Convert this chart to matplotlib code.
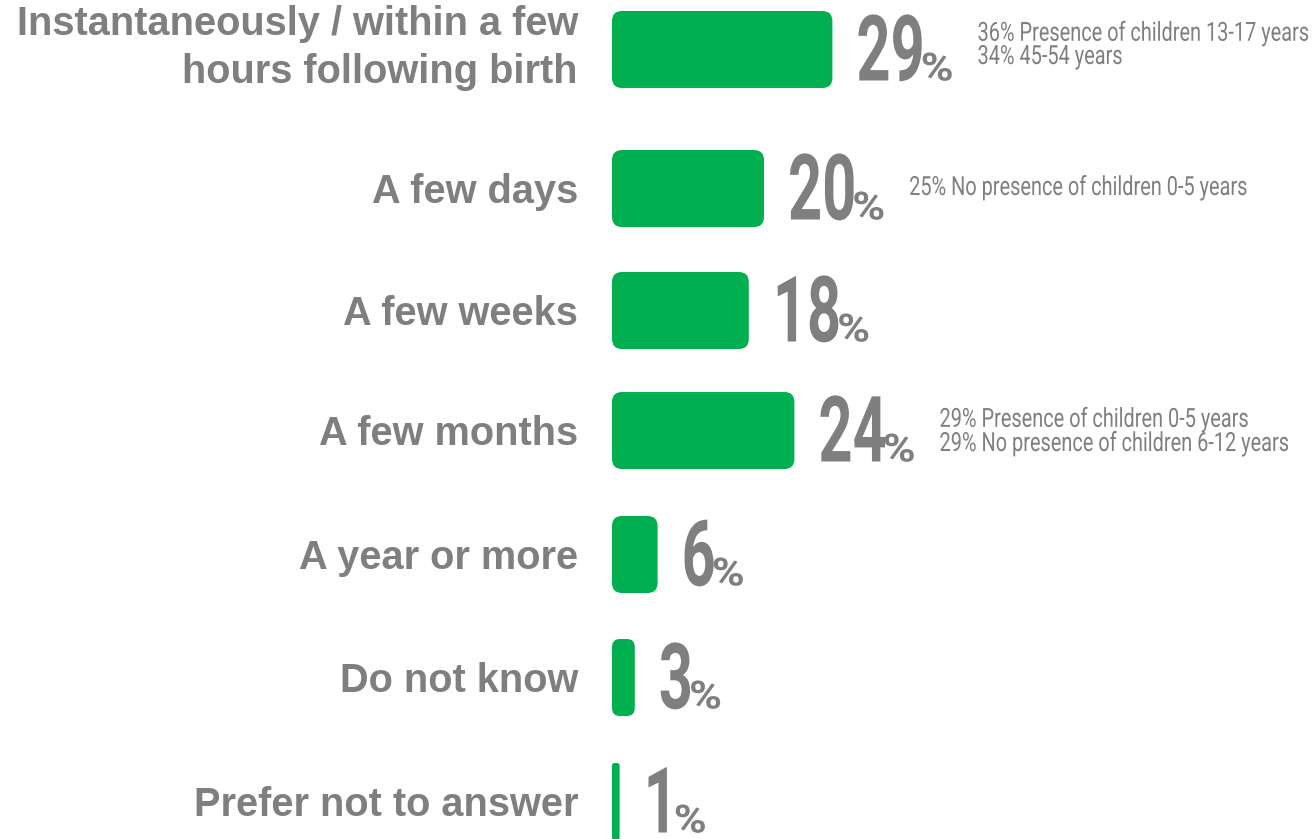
import matplotlib
matplotlib.use("Agg")
import matplotlib.pyplot as plt
from matplotlib.patches import FancyBboxPatch
from matplotlib import patheffects
from matplotlib.transforms import Affine2D, IdentityTransform, offset_copy

# ---- data -------------------------------------------------------------
categories = [
    "Instantaneously / within a few\nhours following birth",
    "A few days",
    "A few weeks",
    "A few months",
    "A year or more",
    "Do not know",
    "Prefer not to answer",
]
shares = [29, 20, 18, 24, 6, 3, 1]
notes = [
    "36% Presence of children 13-17 years\n34% 45-54 years",
    "25% No presence of children 0-5 years",
    "",
    "29% Presence of children 0-5 years\n29% No presence of children 6-12 years",
    "",
    "",
    "",
]

# ---- layout (pixels) --------------------------------------------------
W, H, DPI = 1314, 839, 100
ROW_Y = [49.5, 188.5, 310.5, 430.5, 554.5, 677.5, 801.5]
NOTE_DY = [14.5, 6.5, 0, 20.5, 0, 0, 0]   # baseline of a note's last line
BAR_X0 = 612
PX_PER_PCT = 7.6
BAR_H = 77
CORNER = 10
LABEL_RIGHT = 578
LABEL_SIZE = 28.6
LABEL_LINE = 44
NUM_GAP = 24
NUM_DROP = 31
NOTE_GAP = 24

GREEN = "#00B050"
GREY = "#7F7F7F"


class Condensed(patheffects.AbstractPathEffect):
    """Scale glyphs horizontally about the start of each text line."""

    def __init__(self, sx):
        super().__init__()
        self.sx = sx

    def draw_path(self, renderer, gc, tpath, affine, rgbFace=None):
        m = affine.get_matrix()
        x0 = m[0, 2]
        squeeze = Affine2D().translate(-x0, 0).scale(self.sx, 1).translate(x0, 0)
        renderer.draw_path(gc, tpath, Affine2D(squeeze.get_matrix() @ m), rgbFace)


fig = plt.figure(figsize=(W / DPI, H / DPI), dpi=DPI)
fig.patch.set_facecolor("white")
ax = fig.add_axes([0, 0, 1, 1])
ax.set_xlim(-BAR_X0 / PX_PER_PCT, (W - BAR_X0) / PX_PER_PCT)
ax.set_ylim(H, 0)
ax.axis("off")

# bars with rounded corners
for v, y in zip(shares, ROW_Y):
    width_px = v * PX_PER_PCT
    r_px = min(CORNER, width_px * 0.35)
    bar = FancyBboxPatch(
        (0, y - BAR_H / 2), v, BAR_H,
        boxstyle=f"round,pad=0,rounding_size={r_px / PX_PER_PCT}",
        mutation_aspect=PX_PER_PCT,
        facecolor=GREEN, edgecolor="none", linewidth=0,
    )
    ax.add_patch(bar)

# category labels (baseline given for the last line)
cap = 0.716 * LABEL_SIZE * DPI / 72
label_x = (LABEL_RIGHT - BAR_X0) / PX_PER_PCT
for cat, y in zip(categories, ROW_Y):
    n = cat.count("\n") + 1
    base = y + cap / 2 + (n - 1) * (LABEL_LINE / 2 - 3)
    ax.text(label_x, base, cat, ha="right", va="baseline",
            fontsize=LABEL_SIZE, fontweight="bold", family="Liberation Sans",
            color=GREY, linespacing=1.31)

# value figures
NUM_SX = 0.65
PCT_SX = 1.15
NOTE_SX = 0.755
num_tr = offset_copy(ax.transData, fig=fig, x=NUM_GAP, y=0, units="dots")
num_texts = []
for v, y in zip(shares, ROW_Y):
    t = ax.text(v, y + NUM_DROP, str(v), transform=num_tr, ha="left", va="baseline",
                fontsize=66, fontweight="bold", family="Roboto", color=GREY,
                path_effects=[Condensed(NUM_SX)])
    num_texts.append(t)

fig.canvas.draw()
renderer = fig.canvas.get_renderer()

for v, y, t, note, dy in zip(shares, ROW_Y, num_texts, notes, NOTE_DY):
    bb = t.get_window_extent(renderer)
    bx, by = num_tr.transform((v, y + NUM_DROP))
    px = bb.x0 + bb.width * NUM_SX - 4
    pct = fig.text(px, by, "%", transform=IdentityTransform(), ha="left", va="baseline",
                   fontsize=28, fontweight="bold", family="Roboto", color=GREY,
                   path_effects=[Condensed(PCT_SX)])
    if note:
        pb = pct.get_window_extent(renderer)
        nx = pb.x0 + pb.width * PCT_SX + NOTE_GAP
        ny = ax.transData.transform((0, y + dy))[1]
        fig.text(nx, ny, note, transform=IdentityTransform(), ha="left", va="baseline",
                 fontsize=19, fontweight="normal", family="Roboto", color=GREY,
                 linespacing=0.96, path_effects=[Condensed(NOTE_SX)])

fig.savefig("out.png", dpi=DPI, facecolor="white")
